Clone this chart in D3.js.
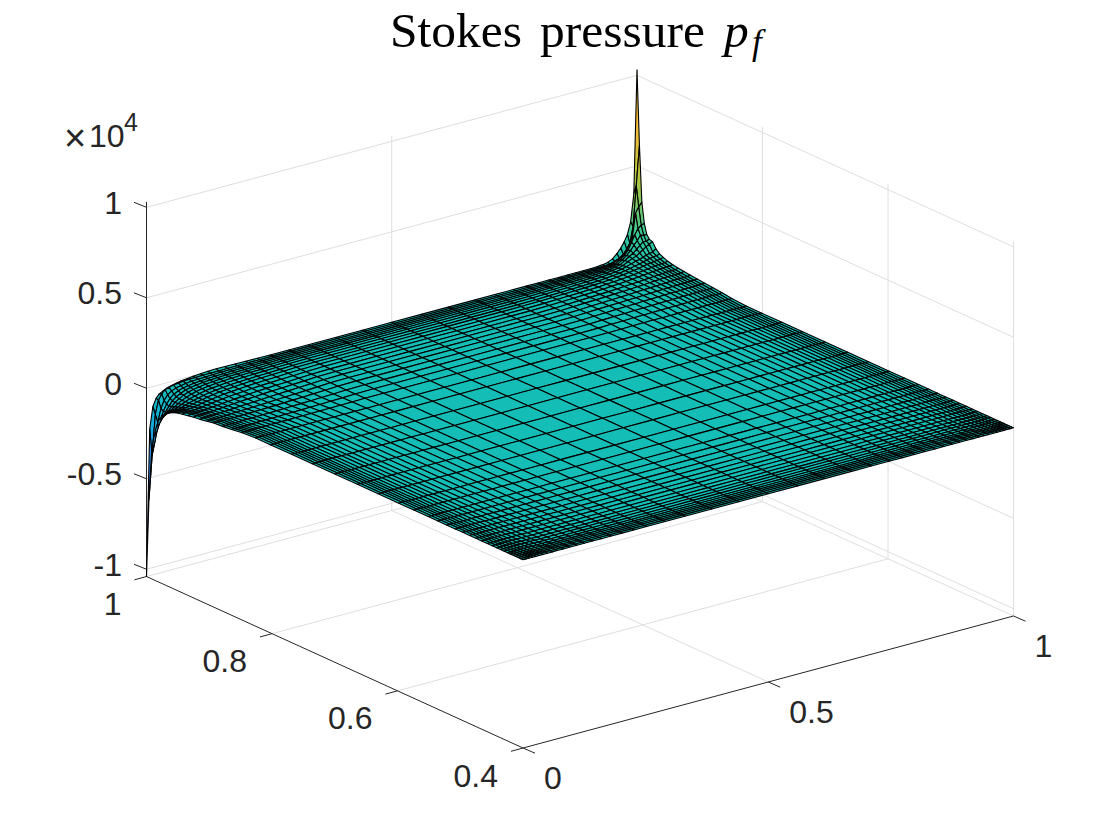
<!DOCTYPE html>
<html><head><meta charset="utf-8">
<script src="https://cdnjs.cloudflare.com/ajax/libs/d3/7.8.5/d3.min.js"></script>
<style>html,body{margin:0;background:#fff}svg{display:block}</style></head>
<body><svg id="c" width="1120" height="840"></svg>
<script>
// mesh lines
const xGrid=[0,.0065,.013,.0195,.026,.033,.041,.05,.06,.07,.082,.095,.11,.125,.142,.16,.18,.202,.226,.252,.29,.33,.385,.44,.5,.56,.615,.67,.71,.748,.774,.798,.82,.84,.858,.875,.89,.905,.918,.93,.94,.95,.959,.967,.974,.9805,.987,.9935,1];
const yGrid=[1,.9961,.9922,.9883,.9844,.9802,.9754,.97,.964,.958,.9508,.943,.934,.925,.9148,.904,.892,.8788,.8644,.8488,.826,.802,.769,.736,.7,.664,.631,.598,.574,.5512,.5356,.5212,.508,.496,.4852,.475,.466,.457,.4492,.442,.436,.43,.4246,.4198,.4156,.4117,.4078,.4039,.4];
// pressure near the corner x=0,y=1 (rows: xGrid from 0, columns: yGrid from 1)
const pressureLowCorner=[
[-10400,-6100,-3600,-2500,-1900,-1420,-1150,-950,-800,-690,-590,-530,-470,-420,-370,-300,-220,-190,-140,-60],
[-2300,-3700,-2960,-2220,-1740,-1370,-1130,-930,-790,-680,-580,-500,-440,-380,-340,-295,-215,-185,-135,-60],
[-1100,-1480,-1850,-1710,-1480,-1240,-1050,-890,-770,-660,-570,-500,-430,-380,-335,-290,-215,-185,-135,-60],
[-700,-740,-1140,-1230,-1180,-1070,-950,-830,-730,-640,-560,-490,-430,-380,-330,-290,-215,-180,-135,-60],
[-500,-440,-740,-890,-930,-890,-830,-750,-680,-600,-530,-470,-420,-370,-330,-290,-210,-180,-130,-60],
[-400,-260,-480,-620,-690,-710,-700,-660,-610,-560,-500,-450,-400,-360,-320,-280,-210,-175,-130,-60],
[-300,-180,-330,-440,-520,-570,-580,-570,-540,-510,-470,-430,-380,-350,-310,-270,-205,-170,-125,-60],
[-220,-120,-230,-320,-390,-440,-470,-470,-470,-450,-420,-390,-360,-330,-300,-260,-200,-165,-120,-55],
[-160,-90,-170,-240,-290,-340,-380,-400,-400,-400,-380,-360,-340,-310,-285,-250,-195,-160,-120,-55],
[-110,-60,-120,-180,-220,-270,-300,-330,-340,-340,-340,-330,-310,-290,-270,-240,-190,-155,-115,-50],
[-70,-40,-90,-130,-170,-210,-240,-260,-280,-290,-290,-290,-280,-270,-250,-225,-180,-150,-110,-50],
[-30,-30,-70,-100,-130,-160,-190,-210,-230,-240,-250,-250,-250,-240,-230,-210,-175,-145,-105,-50],
[0,-25,-50,-75,-100,-125,-150,-170,-185,-200,-210,-215,-220,-215,-210,-195,-165,-135,-100,-45],
[30,-20,-40,-60,-80,-100,-120,-135,-150,-165,-175,-185,-190,-190,-185,-175,-150,-125,-95,-40],
[40,-15,-30,-45,-60,-75,-90,-105,-120,-130,-140,-150,-155,-160,-160,-150,-135,-115,-85,-40],
[40,-10,-20,-30,-45,-60,-70,-85,-95,-105,-115,-120,-130,-135,-135,-130,-115,-100,-75,-35],
[30,-5,-15,-25,-35,-45,-55,-65,-75,-85,-90,-100,-105,-110,-110,-110,-100,-85,-65,-30],
[20,-5,-10,-20,-25,-35,-40,-50,-55,-60,-70,-75,-80,-85,-85,-85,-75,-65,-50,-25],
[10,-5,-10,-10,-15,-20,-25,-30,-35,-40,-45,-50,-50,-55,-55,-55,-50,-45,-35,-15],
[0,0,-5,-5,-5,-10,-10,-10,-15,-15,-20,-20,-20,-20,-20,-20,-20,-20,-15,-5]];
// pressure near the corner x=1,y=1 (rows: xGrid from 1, columns: yGrid from 1)
const pressureHighCorner=[
[10300,6200,3100,2000,1450,1250,1200,900,700,600,500,430,380,340,300,260,220,180,130,60],
[3500,4000,2900,1950,1450,1200,1100,750,640,550,470,400,350,310,275,240,205,165,120,50],
[2000,1800,2600,1800,1500,1200,1000,720,620,530,460,400,345,305,270,235,200,165,115,50],
[1350,900,1300,1500,1250,1050,880,670,590,510,450,390,345,305,265,235,200,160,115,50],
[1000,650,950,1150,1050,900,760,610,550,480,430,380,335,295,265,235,195,160,115,50],
[700,400,600,760,800,720,640,540,490,450,400,360,320,290,255,225,190,155,110,50],
[450,260,400,520,590,600,560,500,440,410,380,345,305,280,250,215,190,150,110,50],
[220,150,260,340,400,440,450,420,390,360,340,310,290,265,240,210,185,150,105,45],
[100,75,140,190,240,280,310,330,330,320,305,290,270,250,230,200,175,145,105,45],
[50,50,100,145,180,220,240,265,275,275,270,265,250,230,215,190,170,140,100,40],
[20,35,75,105,140,170,195,210,225,235,235,235,225,215,200,180,160,130,95,40],
[0,25,55,80,105,130,150,170,185,195,200,200,200,190,185,170,150,125,90,40],
[0,20,40,60,80,100,120,135,150,160,170,175,175,170,170,155,140,115,90,35],
[0,15,30,50,65,80,95,110,120,130,140,150,150,150,150,140,130,110,80,30],
[0,10,25,35,50,60,70,85,95,105,110,120,125,130,130,120,110,95,70,30],
[0,10,15,25,35,50,55,70,75,85,90,95,105,110,110,105,95,85,65,30],
[0,5,10,20,30,35,45,50,60,70,70,80,85,90,90,90,85,70,55,25],
[0,5,10,15,20,30,30,40,45,50,55,60,65,70,70,70,65,55,45,20],
[0,0,5,10,10,15,20,25,30,30,35,40,40,45,45,45,40,35,30,10],
[0,0,0,5,5,10,10,10,10,15,15,15,15,15,15,15,15,15,10,5]];
// away from those corners the surface reads as flat
const pressureFarField=0;
const xTicks=[0,.5,1], xTickLabels=["0","0.5","1"];
const yTicks=[.4,.6,.8,1], yTickLabels=["0.4","0.6","0.8","1"];
const zTicks=[-10000,-5000,0,5000,10000], zTickLabels=["-1","-0.5","0","0.5","1"];
const parulaPos=[0,.1429,.2857,.4286,.5,.5714,.7143,.8571,1];
const parulaCol=["#3e26a8","#4852f4","#2d87f7","#11b1d6","#13beb7","#37c897","#b4c63a","#fdbb38","#f7c32a"];
const xDomain=[0,1], yDomain=[1,.4], zDomain=[-10400,10300];

const svg=d3.select("#c");
const ox=146.5, oy=576.5;
const xToPx=d3.scaleLinear().domain(xDomain).range([0,490.5]);
const xToPy=d3.scaleLinear().domain(xDomain).range([0,-132]);
const yToPx=d3.scaleLinear().domain(yDomain).range([0,376.5]);
const yToPy=d3.scaleLinear().domain(yDomain).range([0,171.5]);
const zToPy=d3.scaleLinear().domain(zDomain).range([0,-374.6]);
const P=(x,y,z)=>[ox+xToPx(x)+yToPx(y), oy+xToPy(x)+yToPy(y)+zToPy(z)];
const colorOf=d3.scaleLinear().domain(parulaPos.map(t=>zDomain[0]+t*(zDomain[1]-zDomain[0]))).range(parulaCol).interpolate(d3.interpolateRgb).clamp(true);
const line=d3.line();
const zLo=zDomain[0], zHi=zDomain[1];

// walls and floor grid
const gridG=svg.append("g").attr("fill","none").attr("stroke","#dedede").attr("stroke-width",1);
const gl=(a,b)=>gridG.append("path").attr("d",line([a,b]));
zTicks.forEach(z=>{gl(P(0,1,z),P(1,1,z));gl(P(1,1,z),P(1,.4,z));});
xTicks.forEach(x=>{ if(x>0) gl(P(x,1,zLo),P(x,1,zHi)); if(x>0) gl(P(x,.4,zLo),P(x,1,zLo)); });
yTicks.forEach(y=>{ gl(P(1,y,zLo),P(1,y,zHi)); if(y>.4) gl(P(0,y,zLo),P(1,y,zLo)); });

// axes
const axisG=svg.append("g").attr("fill","none").attr("stroke","#262626").attr("stroke-width",1);
const al=(a,b)=>axisG.append("path").attr("d",line([a,b]));
al(P(0,1,zLo),P(0,1,zHi)); al(P(0,1,zLo),P(0,.4,zLo)); al(P(0,.4,zLo),P(1,.4,zLo));
zTicks.forEach(z=>{const p=P(0,1,z);al(p,[p[0]-12.5,p[1]-5]);});
yTicks.forEach(y=>{const p=P(0,y,zLo);al(p,[p[0]-12,p[1]+3.3]);});
xTicks.forEach(x=>{const p=P(x,.4,zLo);al(p,[p[0]+12,p[1]+5.2]);});

// surface
const nx=xGrid.length, ny=yGrid.length, K=pressureLowCorner.length;
const zAt=(i,j)=>{
  if(j<K&&i<K) return pressureLowCorner[i][j];
  if(j<K&&nx-1-i<K) return pressureHighCorner[nx-1-i][j];
  return pressureFarField;
};
const defs=svg.append("defs");
const faces=[];
for(let i=nx-2;i>=0;i--) for(let j=0;j<ny-1;j++){
  const v=[[i,j],[i+1,j],[i+1,j+1],[i,j+1]].map(([a,b])=>({z:zAt(a,b),p:P(xGrid[a],yGrid[b],zAt(a,b))}));
  faces.push(v);
}
const gS=svg.append("g").attr("stroke","#000").attr("stroke-width",1.1).attr("stroke-linejoin","round");
faces.forEach((v,k)=>{
  const zs=v.map(d=>d.z), mn=d3.min(zs), mx=d3.max(zs);
  let fill;
  if(mx-mn>700){
    const a=v.find(d=>d.z===mn), b=v.find(d=>d.z===mx), id="g"+k;
    const g=defs.append("linearGradient").attr("id",id).attr("gradientUnits","userSpaceOnUse")
      .attr("x1",a.p[0]).attr("y1",a.p[1]).attr("x2",b.p[0]).attr("y2",b.p[1]);
    d3.range(0,1.01,.25).forEach(t=>g.append("stop").attr("offset",t).attr("stop-color",colorOf(mn+t*(mx-mn))));
    fill=`url(#${id})`;
  } else fill=colorOf(d3.mean(zs));
  gS.append("path").attr("d",line(v.map(d=>d.p))+"Z").attr("fill",fill);
});

// tick labels
const lab=svg.append("g").attr("font-family","'Liberation Sans',Arial,sans-serif").attr("font-size",32).attr("fill","#262626");
zTicks.forEach((z,i)=>{const p=P(0,1,z);lab.append("text").attr("x",122).attr("y",p[1]+6.5).attr("text-anchor","end").text(zTickLabels[i]);});
yTicks.forEach((y,i)=>{const p=P(0,y,zLo);lab.append("text").attr("x",p[0]-25).attr("y",p[1]+38.5).attr("text-anchor","end").text(yTickLabels[i]);});
xTicks.forEach((x,i)=>{const p=P(x,.4,zLo);lab.append("text").attr("x",p[0]+21).attr("y",p[1]+40.7).text(xTickLabels[i]);});
lab.append("text").attr("x",64).attr("y",151).attr("font-size",38).attr("font-weight",300).text("×");
lab.append("text").attr("x",89).attr("y",147).text("10");
lab.append("text").attr("x",124).attr("y",131).attr("font-size",25).text("4");

// title
const tt=svg.append("g").attr("font-family","'Liberation Serif',serif").attr("fill","#000").attr("font-size",49.5);
tt.append("text").attr("x",390).attr("y",47).text("Stokes");
tt.append("text").attr("x",540).attr("y",47).text("pressure");
tt.append("text").attr("x",724).attr("y",47).attr("font-style","italic").text("p");
tt.append("text").attr("x",752).attr("y",54).attr("font-style","italic").attr("font-size",35).text("f");
</script></body></html>
